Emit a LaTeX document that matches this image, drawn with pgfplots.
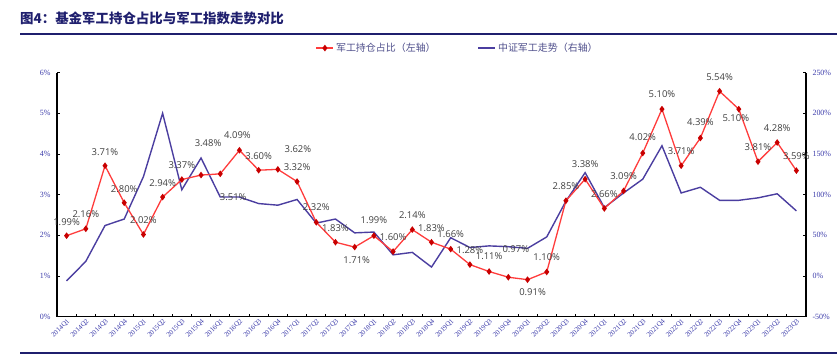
\documentclass[border=0pt]{standalone}
\usepackage{fontspec}
\usepackage{pgfplots}
\usepackage{pgfplotstable}
\pgfplotsset{compat=1.18}
\setmainfont{Liberation Serif}
\newfontfamily\lblfont{Open Sans}
\newfontfamily\cjk{Noto Sans CJK SC}
\definecolor{navy}{RGB}{31,31,110}
\definecolor{tickblue}{RGB}{60,60,170}
\definecolor{redline}{RGB}{255,60,60}
\definecolor{redmark}{RGB}{200,0,0}
\definecolor{blueline}{RGB}{75,62,160}
\definecolor{lbltext}{RGB}{64,64,64}
\definecolor{legtext}{RGB}{80,80,140}

\pgfplotstableread{
i y dx dy
0 1.99 0 14
1 2.16 0 15
2 3.71 0 14
3 2.80 0 14
4 2.02 0 14.5
5 2.94 0 14
6 3.37 0 14.5
7 3.48 7 32
8 3.51 13 -23
9 4.09 -2 15
10 3.60 0 14.5
11 3.62 20 20
12 3.32 0 14
13 2.32 0 15.5
14 1.83 0 14
15 1.71 2 -13.5
16 1.99 0 16
17 1.60 0 14.5
18 2.14 0 14
19 1.83 0 14.5
20 1.66 0 15
21 1.28 0 14
22 1.11 0 15
23 0.97 7.5 28.5
24 0.91 5 -12
25 1.10 0 14.5
26 2.85 0 15
27 3.38 0 14.5
28 2.66 0 14.5
29 3.09 0 15
30 4.02 0 15.5
31 5.10 0 14.5
32 3.71 0 15
33 4.39 0 15.5
34 5.54 0 14.5
35 5.10 -3 -9.5
36 3.81 0 14
37 4.28 0 14.5
38 3.59 0 14.5
}\redtab

\pgfplotstableread{
i v
0 -6
1 18
2 62
3 70
4 122
5 200
6 106
7 145
8 97
9 97
10 89
11 87
12 94
13 65
14 70
15 53
16 54
17 26
18 29
19 11
20 47
21 35
22 37
23 36
24 34
25 48
26 92
27 127
28 84
29 102
30 119
31 160
32 102
33 109
34 93
35 93
36 96
37 101
38 80
}\bluetab

\pgfplotsset{/pgf/number format/assume math mode=true}

\begin{document}
\begin{tikzpicture}
\path[use as bounding box] (0,0) rectangle (837bp,-355bp);
\node[anchor=west, inner sep=0pt, text=navy] at (20bp,-18bp) {\cjk\bfseries\fontsize{13.5}{14}\selectfont 图4：基金军工持仓占比与军工指数走势对比};
\draw[navy, line width=2.2bp] (20bp,-34.3bp) -- (837bp,-34.3bp);
\draw[navy, line width=2.2bp] (20bp,-352.7bp) -- (837bp,-352.7bp);
\pgfplotsset{
  base/.style={scale only axis, width=749bp, height=244.2bp,
    at={(57bp,-316.7bp)}, anchor=south west,
    xmin=-0.5, xmax=38.5, clip=false,
    axis line style={black, line width=1.2bp},
    major tick length=3bp, minor tick length=3bp,
    every tick/.style={black, line width=0.8bp},
    yticklabel style={font=\fontsize{8}{8}\selectfont, text=tickblue},
  }
}
\begin{axis}[base, axis y line*=right, axis x line=none,
  ymin=-50, ymax=250, ytick={-50,0,50,100,150,200,250},
  yticklabel={\pgfmathprintnumber{\tick}\%},
  yticklabel style={xshift=3bp},
  xtick=\empty]
\addplot[blueline, line width=1.4bp, no marks] table[x=i,y=v]{\bluetab};
\end{axis}
\begin{axis}[base, axis y line*=left, axis x line*=bottom,
  ymin=0, ymax=6, ytick={0,1,2,3,4,5,6},
  yticklabel={\pgfmathprintnumber{\tick}\%},
  yticklabel style={xshift=-3bp},
  xtick={0,...,38},
  xticklabels={2014Q1,2014Q2,2014Q3,2014Q4,2015Q1,2015Q2,2015Q3,2015Q4,2016Q1,2016Q2,2016Q3,2016Q4,2017Q1,2017Q2,2017Q3,2017Q4,2018Q1,2018Q2,2018Q3,2018Q4,2019Q1,2019Q2,2019Q3,2019Q4,2020Q1,2020Q2,2020Q3,2020Q4,2021Q1,2021Q2,2021Q3,2021Q4,2022Q1,2022Q2,2022Q3,2022Q4,2023Q1,2023Q2,2023Q3},
  xticklabel style={rotate=45, anchor=north east, font=\fontsize{7}{7}\selectfont, text=tickblue, inner sep=1bp},
  major x tick style={draw=none},
  minor xtick={0.5,1.5,...,37.5},
  legend style={at={(0.535,1.1)}, anchor=center, draw=none, fill=none,
    legend columns=2, font=\cjk\fontsize{10}{10}\selectfont, text=legtext,
    /tikz/every even column/.append style={column sep=40bp}},
  legend cell align=left]
\addplot[redline, line width=1.3bp, mark=diamond*, mark size=2.3bp,
  mark options={redmark, fill=redmark, solid},
  point meta=y,
  visualization depends on={\thisrow{dx} \as \myDx},
  visualization depends on={\thisrow{dy} \as \myDy},
  nodes near coords={\pgfmathprintnumber[fixed,fixed zerofill,precision=2]{\pgfplotspointmeta}\%},
  nodes near coords align={center},
  every node near coord/.append style={font=\lblfont\fontsize{9.5}{9.5}\selectfont, text=lbltext, xshift=\myDx bp, yshift=\myDy bp, inner sep=0pt}
] table[x=i,y=y]{\redtab};
\addlegendentry{军工持仓占比（左轴）}
\addlegendimage{blueline, line width=1.4bp, no marks}
\addlegendentry{中证军工走势（右轴）}
\end{axis}
\end{tikzpicture}
\end{document}
